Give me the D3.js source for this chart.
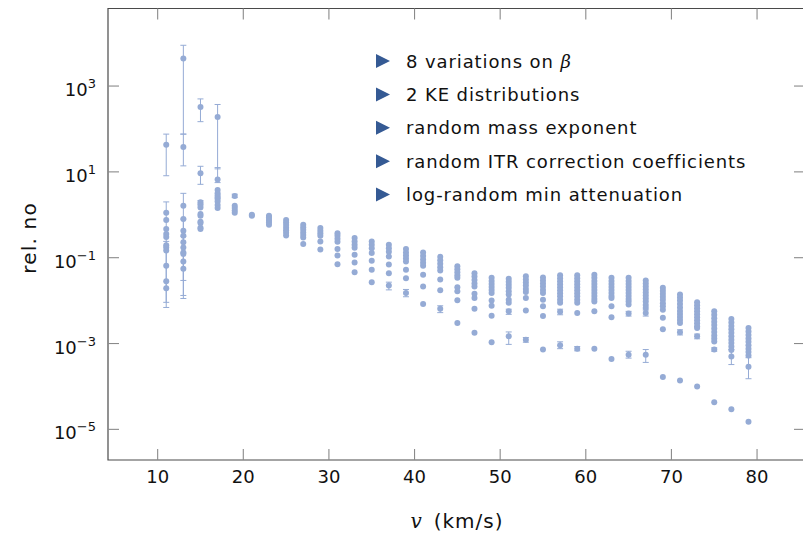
<!DOCTYPE html>
<html>
<head>
<meta charset="utf-8">
<script src="https://cdn.jsdelivr.net/npm/d3@7"></script>
<style>
  body { margin: 0; background: #fff; }
  text { font-family: "DejaVu Sans", sans-serif; fill: #111; }
</style>
</head>
<body>
<svg id="chart" width="803" height="537"></svg>
<script>
// velocities (km/s) and, for each, the exponents (log10 of rel. no)
const velocity = [11, 13, 15, 17, 19, 21, 23, 25, 27, 29, 31, 33, 35, 37, 39, 41, 43, 45,
  47, 49, 51, 53, 55, 57, 59, 61, 63, 65, 67, 69, 71, 73, 75, 77, 79];

const log10RelNo = [
  [1.63, 0.05, -0.12, -0.33, -0.45, -0.52, -0.71, -0.76, -0.83, -1.19, -1.55, -1.71],
  [3.64, 1.58, 0.21, -0.10, -0.37, -0.49, -0.64, -0.76, -0.88, -0.91, -1.09, -1.26],
  [2.51, 0.97, 0.29, 0.23, 0.17, 0.02, -0.02, -0.16, -0.19, -0.30, -0.33],
  [2.28, 0.82, 0.58, 0.50, 0.45, 0.40, 0.37, 0.31, 0.23, 0.16],
  [0.44, 0.21, 0.16, 0.10, 0.05],
  [0.0, -0.02],
  [-0.02, -0.06, -0.10, -0.14, -0.18, -0.23],
  [-0.12, -0.18, -0.24, -0.30, -0.36, -0.42, -0.48],
  [-0.23, -0.29, -0.35, -0.41, -0.47, -0.53, -0.68],
  [-0.31, -0.37, -0.43, -0.49, -0.62, -0.81],
  [-0.43, -0.49, -0.56, -0.63, -0.80, -0.95, -1.15],
  [-0.54, -0.62, -0.70, -0.77, -0.93, -1.11, -1.34],
  [-0.62, -0.70, -0.78, -0.89, -1.07, -1.28, -1.57],
  [-0.70, -0.78, -0.86, -0.97, -1.16, -1.36, -1.65],
  [-0.80, -0.88, -0.95, -1.02, -1.09, -1.28, -1.48, -1.82],
  [-0.88, -0.96, -1.04, -1.12, -1.19, -1.40, -1.67, -2.08],
  [-0.98, -1.06, -1.14, -1.22, -1.30, -1.51, -1.76, -2.19],
  [-1.20, -1.27, -1.34, -1.41, -1.47, -1.69, -1.78, -1.99, -2.52],
  [-1.36, -1.44, -1.52, -1.60, -1.67, -1.84, -1.94, -2.19, -2.75],
  [-1.47, -1.54, -1.61, -1.68, -1.75, -1.82, -2.00, -2.12, -2.35, -2.97],
  [-1.49, -1.56, -1.63, -1.70, -1.78, -1.86, -1.98, -2.05, -2.25, -2.83],
  [-1.43, -1.51, -1.58, -1.65, -1.73, -1.80, -1.94, -2.23, -2.91],
  [-1.46, -1.53, -1.60, -1.67, -1.75, -1.82, -1.98, -2.13, -2.36, -3.14],
  [-1.41, -1.48, -1.55, -1.62, -1.69, -1.76, -1.83, -1.90, -1.98, -2.05, -2.26, -3.04],
  [-1.41, -1.48, -1.55, -1.62, -1.69, -1.76, -1.83, -1.90, -1.98, -2.05, -2.29, -3.12],
  [-1.40, -1.47, -1.54, -1.61, -1.68, -1.75, -1.82, -1.89, -1.96, -2.02, -2.25, -3.12],
  [-1.47, -1.54, -1.61, -1.68, -1.75, -1.82, -1.89, -1.94, -2.13, -2.39, -3.36],
  [-1.47, -1.54, -1.61, -1.68, -1.75, -1.82, -1.89, -1.96, -2.02, -2.09, -2.30, -3.26],
  [-1.53, -1.60, -1.67, -1.74, -1.81, -1.88, -1.95, -2.02, -2.10, -2.17, -2.29, -3.26],
  [-1.70, -1.77, -1.84, -1.91, -1.98, -2.06, -2.13, -2.21, -2.40, -2.67, -3.78],
  [-1.86, -1.93, -2.00, -2.08, -2.16, -2.24, -2.31, -2.38, -2.45, -2.52, -2.74, -3.86],
  [-2.04, -2.11, -2.18, -2.25, -2.32, -2.39, -2.46, -2.53, -2.60, -2.64, -2.83, -4.00],
  [-2.25, -2.33, -2.41, -2.49, -2.57, -2.65, -2.73, -2.81, -2.88, -2.95, -3.14, -4.37],
  [-2.43, -2.51, -2.59, -2.67, -2.75, -2.83, -2.91, -2.99, -3.07, -3.15, -3.30, -4.53],
  [-2.64, -2.72, -2.80, -2.88, -2.96, -3.04, -3.12, -3.20, -3.28, -3.54, -4.82]
];

// visible error bars: [velocity, log10 low, log10 high]
const errorBars = [
  [11, 0.91, 1.88], [11, -2.16, 0.30], [11, -2.04, -0.62],
  [13, 1.88, 3.95], [13, 1.14, 1.88], [13, -1.53, 0.50], [13, -1.95, -0.10], [13, -1.88, -0.50],
  [15, 2.17, 2.70], [15, 0.71, 1.13], [15, 0.25, 0.33],
  [17, 1.07, 2.57], [17, 0.75, 1.10],
  [19, 0.40, 0.48],
  [37, -1.75, -1.57], [39, -1.91, -1.74], [43, -2.28, -2.12],
  [51, -2.32, -2.20], [51, -3.02, -2.73], [53, -2.97, -2.86],
  [57, -2.33, -2.20], [57, -3.12, -2.96], [59, -3.17, -3.07],
  [65, -2.36, -2.25], [65, -3.34, -3.18], [67, -2.36, -2.22], [67, -3.44, -3.14],
  [71, -2.80, -2.68], [73, -2.89, -2.78], [75, -3.18, -3.10],
  [77, -3.49, -3.14], [79, -3.82, -3.33]
];

const yTickExp = [-5, -3, -1, 1, 3];
const xTicks = [10, 20, 30, 40, 50, 60, 70, 80];
const legendItems = ["8 variations on ", "2 KE distributions", "random mass exponent",
  "random ITR correction coefficients", "log-random min attenuation"];

const dotColor = "#95abd5";
const svg = d3.select("#chart");
const mLeft = 108, mRight = 805, mTop = 8.5, mBottom = 460;

const x = d3.scaleLinear().domain([4.2, 85.6]).range([mLeft, mRight]);
const y = d3.scaleLog().domain([Math.pow(10, -5.714), Math.pow(10, 4.807)]).range([mBottom, mTop]);

const plot = svg.append("g");

// error bars
const eb = plot.append("g").attr("stroke", dotColor).attr("stroke-width", 1);
errorBars.forEach(([v, lo, hi]) => {
  const cx = x(v), y0 = y(Math.pow(10, lo)), y1 = y(Math.pow(10, hi));
  eb.append("line").attr("x1", cx).attr("x2", cx).attr("y1", y0).attr("y2", y1);
  eb.append("line").attr("x1", cx - 3).attr("x2", cx + 3).attr("y1", y0).attr("y2", y0);
  eb.append("line").attr("x1", cx - 3).attr("x2", cx + 3).attr("y1", y1).attr("y2", y1);
});

// points
const points = [];
velocity.forEach((v, i) => log10RelNo[i].forEach(e => points.push([v, Math.pow(10, e)])));
plot.append("g")
  .selectAll("circle")
  .data(points)
  .join("circle")
  .attr("cx", d => x(d[0]))
  .attr("cy", d => y(d[1]))
  .attr("r", 3)
  .attr("fill", dotColor);

// frame
const axisCol = "#4a4a4a";
svg.append("path")
  .attr("d", `M${mRight},${mTop}H${mLeft}V${mBottom}H${mRight}`)
  .attr("fill", "none").attr("stroke", axisCol).attr("stroke-width", 1.2);

// ticks (inward, all four sides)
const tk = svg.append("g").attr("stroke", "#8a8a8a").attr("stroke-width", 1.1);
xTicks.forEach(t => {
  tk.append("line").attr("x1", x(t)).attr("x2", x(t)).attr("y1", mBottom).attr("y2", mBottom - 11);
  tk.append("line").attr("x1", x(t)).attr("x2", x(t)).attr("y1", mTop).attr("y2", mTop + 11);
});
yTickExp.forEach(e => {
  const ty = y(Math.pow(10, e));
  tk.append("line").attr("x1", mLeft).attr("x2", mLeft + 11).attr("y1", ty).attr("y2", ty);
  tk.append("line").attr("x1", 794).attr("x2", 805).attr("y1", ty).attr("y2", ty);
});

// tick labels
svg.append("g").selectAll("text")
  .data(xTicks)
  .join("text")
  .attr("x", d => x(d))
  .attr("y", 483)
  .attr("text-anchor", "middle")
  .attr("font-size", 18)
  .text(d => d);

const yl = svg.append("g").selectAll("text")
  .data(yTickExp)
  .join("text")
  .attr("x", 96)
  .attr("y", d => y(Math.pow(10, d)) + 10)
  .attr("text-anchor", "end")
  .attr("font-size", 18);
yl.append("tspan").text("10");
yl.append("tspan").attr("dy", -8).attr("font-size", 13)
  .text(d => (d < 0 ? "\u2212" : "") + Math.abs(d));

// axis titles
svg.append("text")
  .attr("transform", "translate(36,238) rotate(-90)")
  .attr("text-anchor", "middle")
  .attr("font-size", 20)
  .attr("letter-spacing", 1.2)
  .text("rel. no");

const xt = svg.append("text")
  .attr("x", 457).attr("y", 528)
  .attr("text-anchor", "middle")
  .attr("font-size", 20)
  .attr("letter-spacing", 1);
xt.append("tspan").attr("font-family", "DejaVu Serif").attr("font-style", "italic").text("v");
xt.append("tspan").text("\u2002(km/s)");

// bullet list
const lg = svg.append("g");
legendItems.forEach((s, i) => {
  const cy = 61 + i * 33.4;
  lg.append("path")
    .attr("d", `M376,${cy - 7}L390,${cy}L376,${cy + 7}Z`)
    .attr("fill", "#355a94");
  const t = lg.append("text").attr("x", 406).attr("y", cy + 6.5)
    .attr("font-size", 18).attr("letter-spacing", 0.9).text(s);
  if (i === 0) t.append("tspan").attr("font-family", "DejaVu Serif").attr("font-style", "italic").text("\u03b2");
});
</script>
</body>
</html>
